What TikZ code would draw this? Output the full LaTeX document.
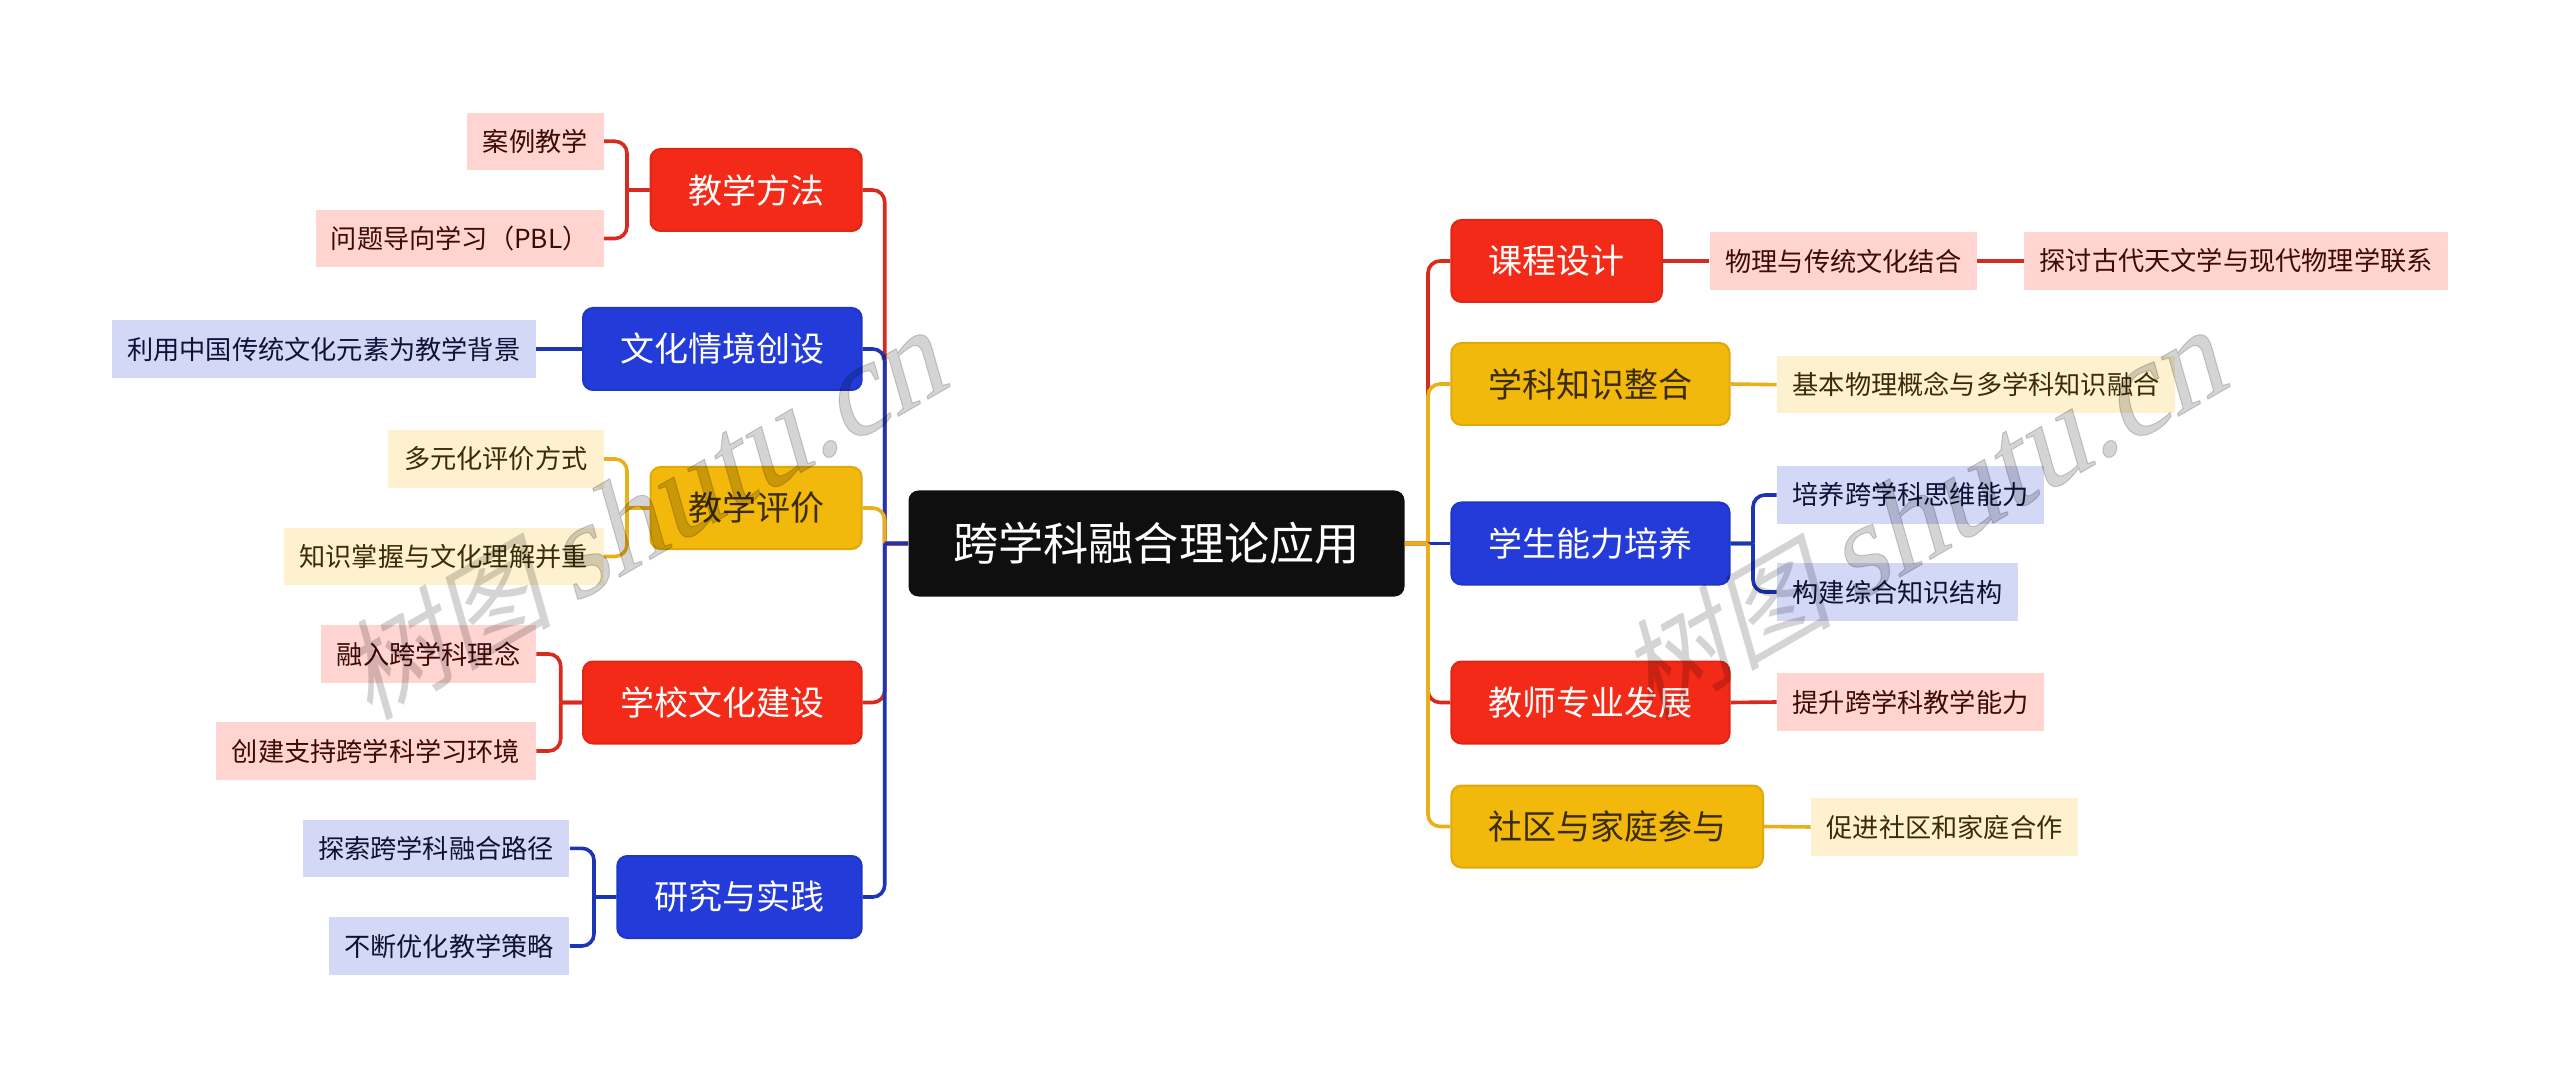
\documentclass[tikz,border=0pt]{standalone}
\usepackage{fontspec}
\setmainfont{Noto Sans CJK SC}
\newfontfamily\wmcjk[FakeSlant=0.25]{Noto Sans CJK SC}
\newfontfamily\wmlat[FakeSlant=0.25,FakeBold=0.8]{Liberation Serif}
\definecolor{cred}{HTML}{F22A17}
\definecolor{cblue}{HTML}{233BD8}
\definecolor{cyel}{HTML}{F2B80C}
\definecolor{lred}{HTML}{FFD4D1}
\definecolor{lblue}{HTML}{D3D8F7}
\definecolor{lyel}{HTML}{FDF1CF}
\definecolor{dred}{HTML}{D62B1E}
\definecolor{dblue}{HTML}{1C35B5}
\definecolor{dyel}{HTML}{E9B01A}
\definecolor{tred}{HTML}{3D0A06}
\definecolor{tblue}{HTML}{0E1236}
\definecolor{tyel}{HTML}{3A2C04}
\tikzset{
  x=0.5pt,y=-0.5pt,
  rootbox/.style={rounded corners=5pt,fill=black!94,text=white,font=\fontsize{22.6pt}{26pt}\selectfont,inner sep=0pt,minimum width=248pt,minimum height=53pt},
  lvone/.style={rounded corners=5pt,fill=#1,draw=#1!92!black,line width=1pt,font=\fontsize{17pt}{20pt}\selectfont,inner sep=0pt,minimum height=41pt},
  redone/.style={lvone=cred,text=white},
  blueone/.style={lvone=cblue,text=white},
  yelone/.style={lvone=cyel,text=tyel},
  lvtwo/.style={fill=#1,font=\fontsize{13.1pt}{16pt}\selectfont,inner sep=0pt,minimum height=28.7pt},
  redtwo/.style={lvtwo=lred,text=tred},
  bluetwo/.style={lvtwo=lblue,text=tblue},
  yeltwo/.style={lvtwo=lyel,text=tyel},
  link/.style={line width=1.8pt,color=#1},
  wm/.style={rotate=30,text=black,opacity=0.17,inner sep=0pt,anchor=center}
}
% #1 style, #2 name, #3 left, #4 right, #5 centre y, #6 text
\newcommand{\boxnode}[6]{%
  \pgfmathsetmacro{\boxw}{(#4-#3)*0.5}%
  \pgfmathsetmacro{\boxc}{(#3+#4)/2}%
  \pgfmathsetmacro{\boxy}{#5+1}%
  \node[#1,minimum width=\boxw pt] (#2) at (\boxc,\boxy) {#6};}
% #1 colour, #2 from, #3 spine coordinate, #4 to, #5 from anchor, #6 to anchor
\newcommand{\forkline}[6]{%
  \draw[link=#1] (#2.#5) -- (#3|-#2.#5) (#3|-#2.#5) [rounded corners=6pt] -- (#3|-#4.#6) -- (#4.#6);}
\begin{document}
\begin{tikzpicture}
\useasboundingbox (0,0) rectangle (2560,1085);
\fill[white] (0,0) rectangle (2560,1085);
% spines
\coordinate (sl) at (884.7,0);
\coordinate (sr) at (1428,0);
\coordinate (s1) at (627,0);
\coordinate (s3) at (627,0);
\coordinate (s4) at (560.7,0);
\coordinate (s5) at (594,0);
\coordinate (s6) at (1753,0);
% nodes
\node[rootbox] (main) at (1156.5,543.5) {跨学科融合理论应用};
\boxnode{redone}{a}{650.5}{861.7}{189}{教学方法}
\boxnode{blueone}{b}{583}{861.7}{348}{文化情境创设}
\boxnode{yelone}{c}{650.5}{861.7}{507}{教学评价}
\boxnode{redone}{d}{583}{861.7}{701.5}{学校文化建设}
\boxnode{blueone}{e}{617.3}{861.7}{896}{研究与实践}
\boxnode{redtwo}{a1}{466.8}{603.6}{140.3}{案例教学}
\boxnode{redtwo}{a2}{315.8}{603.6}{237.5}{问题导向学习（PBL）}
\boxnode{bluetwo}{b1}{111.7}{536}{348}{利用中国传统文化元素为教学背景}
\boxnode{yeltwo}{c1}{388}{603.6}{458}{多元化评价方式}
\boxnode{yeltwo}{c2}{283.7}{603.6}{555.5}{知识掌握与文化理解并重}
\boxnode{redtwo}{d1}{321}{536}{653}{融入跨学科理念}
\boxnode{redtwo}{d2}{215.8}{536}{750}{创建支持跨学科学习环境}
\boxnode{bluetwo}{e1}{302.6}{569.4}{847.3}{探索跨学科融合路径}
\boxnode{bluetwo}{e2}{328.6}{569.4}{945}{不断优化教学策略}
\boxnode{redone}{f}{1451.4}{1662}{260}{课程设计}
\boxnode{yelone}{g}{1451.4}{1729.5}{383}{学科知识整合}
\boxnode{blueone}{h}{1451.4}{1729.5}{542.5}{学生能力培养}
\boxnode{redone}{i}{1451.4}{1729.5}{701.5}{教师专业发展}
\boxnode{yelone}{j}{1451.4}{1763}{825.5}{社区与家庭参与}
\boxnode{redtwo}{f1}{1709.6}{1977}{260}{物理与传统文化结合}
\boxnode{redtwo}{f2}{2023.9}{2448.4}{260}{探讨古代天文学与现代物理学联系}
\boxnode{yeltwo}{g1}{1777}{2175}{383.7}{基本物理概念与多学科知识融合}
\boxnode{bluetwo}{h1}{1777}{2044.3}{494}{培养跨学科思维能力}
\boxnode{bluetwo}{h2}{1777}{2017.8}{591}{构建综合知识结构}
\boxnode{redtwo}{i1}{1777}{2044.3}{701}{提升跨学科教学能力}
\boxnode{yeltwo}{j1}{1811}{2078}{826}{促进社区和家庭合作}
% connectors, left
\forkline{dred}{main}{sl}{a}{west}{east}
\forkline{dblue}{main}{sl}{b}{west}{east}
\forkline{dyel}{main}{sl}{c}{west}{east}
\forkline{dred}{main}{sl}{d}{west}{east}
\forkline{dblue}{main}{sl}{e}{west}{east}
% connectors, right
\forkline{dred}{main}{sr}{f}{east}{west}
\forkline{dyel}{main}{sr}{g}{east}{west}
\draw[link=dblue] (main.east) -- (h.west);
\forkline{dred}{main}{sr}{i}{east}{west}
\forkline{dyel}{main}{sr}{j}{east}{west}
% second level
\forkline{dred}{a}{s1}{a1}{west}{east}
\forkline{dred}{a}{s1}{a2}{west}{east}
\draw[link=dblue] (b.west) -- (b1.east);
\forkline{dyel}{c}{s3}{c1}{west}{east}
\forkline{dyel}{c}{s3}{c2}{west}{east}
\forkline{dred}{d}{s4}{d1}{west}{east}
\forkline{dred}{d}{s4}{d2}{west}{east}
\forkline{dblue}{e}{s5}{e1}{west}{east}
\forkline{dblue}{e}{s5}{e2}{west}{east}
\draw[link=dred] (f.east) -- (f1.west);
\draw[link=dred] (f1.east) -- (f2.west);
\draw[link=dyel] (g.east) -- (g1.west);
\forkline{dblue}{h}{s6}{h1}{east}{west}
\forkline{dblue}{h}{s6}{h2}{east}{west}
\draw[link=dred] (i.east) -- (i1.west);
\draw[link=dyel] (j.east) -- (j1.west);
% watermarks
\node[wm] (w1) at (640,518) {\fontsize{54pt}{60pt}\selectfont\wmcjk 树图\hspace{10pt}\fontsize{65pt}{60pt}\selectfont\wmlat shutu.cn};
\node[wm] (w2) at (1920,518) {\fontsize{54pt}{60pt}\selectfont\wmcjk 树图\hspace{10pt}\fontsize{65pt}{60pt}\selectfont\wmlat shutu.cn};
\end{tikzpicture}
\end{document}
